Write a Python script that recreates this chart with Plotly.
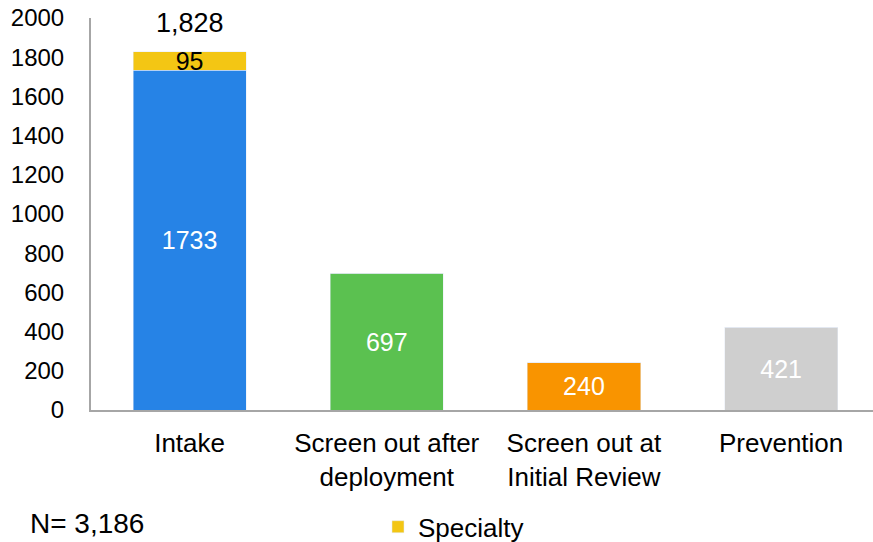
import plotly.graph_objects as go

categories = ["Intake", "Screen out after<br>deployment", "Screen out at<br>Initial Review", "Prevention"]
base_values = [1733, 697, 240, 421]
specialty_values = [95, 0, 0, 0]
total_label = "1,828"
n_label = "N= 3,186"
bar_colors = ["#2683E6", "#5BC150", "#F99400", "#CFCFCF"]
specialty_color = "#F3C614"
y_ticks = [0, 200, 400, 600, 800, 1000, 1200, 1400, 1600, 1800, 2000]

font_family = "Liberation Sans, Arial, sans-serif"

fig = go.Figure()
fig.add_trace(go.Bar(
    x=categories, y=base_values, marker_color=bar_colors, showlegend=False,
    text=[str(v) for v in base_values], textposition="inside", insidetextanchor="middle",
    textangle=0,
    textfont=dict(color="white", size=25, family=font_family), constraintext="none",
    width=0.574,
))
fig.add_trace(go.Bar(
    x=categories, y=specialty_values, marker_color=specialty_color, name="Specialty",
    text=[str(v) if v else "" for v in specialty_values], textposition="inside", insidetextanchor="middle",
    textangle=0,
    textfont=dict(color="black", size=25, family=font_family), constraintext="none",
    width=0.574,
))
fig.add_annotation(x=categories[0], y=base_values[0] + specialty_values[0], yshift=12,
                   text=total_label, showarrow=False, yanchor="bottom",
                   font=dict(size=27, color="black", family=font_family))
fig.add_annotation(x=-0.081, y=-0.29, xref="paper", yref="paper", text=n_label,
                   showarrow=False, xanchor="left", yanchor="middle",
                   font=dict(size=28, color="black", family=font_family))

fig.update_layout(
    barmode="stack",
    width=873, height=542,
    margin=dict(l=91, r=0, t=18, b=132, autoexpand=False),
    paper_bgcolor="white", plot_bgcolor="white",
    font=dict(family=font_family, size=25, color="black"),
    legend=dict(orientation="h", x=0.367, y=-0.298, xanchor="left", yanchor="middle",
                font=dict(size=26), itemwidth=30),
    xaxis=dict(range=[-0.5, 3.466], showline=True, linecolor="#A6A6A6", linewidth=2,
               ticks="outside", ticklen=9, tickcolor="rgba(0,0,0,0)",
               tickfont=dict(size=26), showgrid=False, automargin=False),
    yaxis=dict(range=[0, 2000], tickvals=y_ticks, showline=True, linecolor="#A6A6A6",
               linewidth=2, showgrid=False, zeroline=False, ticks="outside",
               ticklen=20, tickcolor="rgba(0,0,0,0)", tickfont=dict(size=24),
               automargin=False),
)
fig.write_html("out.html", config={"displayModeBar": False},
               post_script="document.body.style.margin='0';document.body.style.overflow='hidden';")
